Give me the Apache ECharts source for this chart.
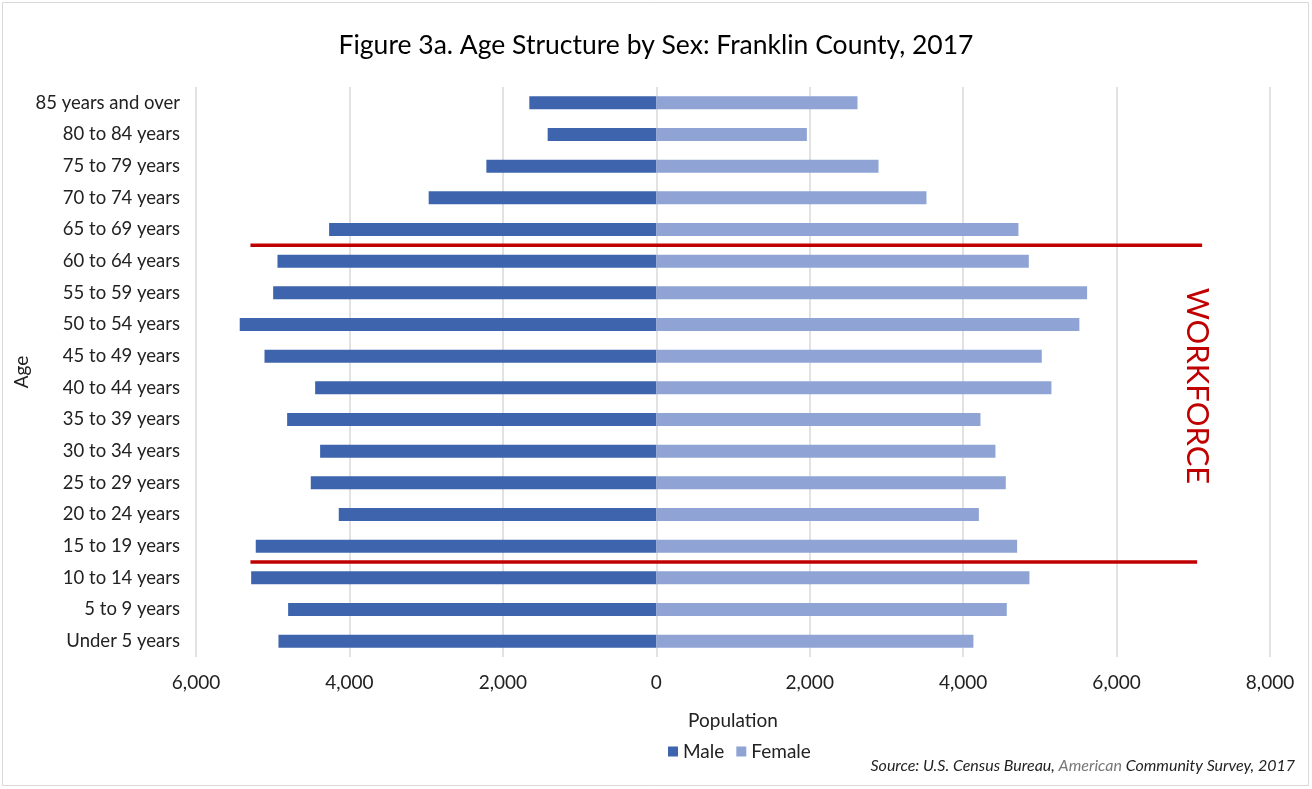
<!DOCTYPE html>
<html>
<head>
<meta charset="utf-8">
<title>Age Structure by Sex: Franklin County, 2017</title>
<script src="https://cdn.jsdelivr.net/npm/echarts@6/dist/echarts.min.js"></script>
<style>
  html, body { margin: 0; padding: 0; background: #fff; }
  #chart { width: 1312px; height: 789px; }
</style>
</head>
<body>
<div id="chart"></div>
<script>
// categories from bottom to top (category axis draws first item at the bottom)
var ageGroups = [
  "Under 5 years", "5 to 9 years", "10 to 14 years", "15 to 19 years",
  "20 to 24 years", "25 to 29 years", "30 to 34 years", "35 to 39 years",
  "40 to 44 years", "45 to 49 years", "50 to 54 years", "55 to 59 years",
  "60 to 64 years", "65 to 69 years", "70 to 74 years", "75 to 79 years",
  "80 to 84 years", "85 years and over"
];
var male = [4925, 4799, 5281, 5221, 4139, 4504, 4382, 4812, 4447, 5107,
  5430, 4994, 4938, 4265, 2967, 2215, 1416, 1655];
var female = [4134, 4569, 4864, 4704, 4205, 4556, 4421, 4226, 5151, 5025,
  5515, 5616, 4856, 4721, 3522, 2897, 1963, 2623];
var xTicks = [-6000, -4000, -2000, 0, 2000, 4000, 6000, 8000];

// workforce band: between 10-14 / 15-19 and 60-64 / 65-69
var workforceLines = [
  { below: "10 to 14 years", above: "15 to 19 years", from: -5290, to: 7050 },
  { below: "60 to 64 years", above: "65 to 69 years", from: -5290, to: 7115 }
];

var FONT = "Lato";
var chart = echarts.init(document.getElementById("chart"));

chart.setOption({
  animation: false,
  textStyle: { fontFamily: FONT },
  color: ["#3d64ad", "#8fa4d5"],
  title: {
    text: "Figure 3a. Age Structure by Sex: Franklin County, 2017",
    left: "center",
    top: 27,
    textStyle: { fontFamily: FONT, fontSize: 26.5, fontWeight: "normal", color: "#000" }
  },
  legend: {
    bottom: 23,
    left: 663,
    itemWidth: 10,
    itemHeight: 10,
    itemGap: 12,
    icon: "rect",
    textStyle: { fontFamily: FONT, fontSize: 19, color: "#222" },
    data: ["Male", "Female"]
  },
  grid: { left: 196, right: 42, top: 87, bottom: 132, containLabel: false, outerBoundsMode: "none" },
  xAxis: {
    type: "value",
    min: xTicks[0],
    max: xTicks[xTicks.length - 1],
    interval: 2000,
    name: "Population",
    nameLocation: "middle",
    nameGap: 54,
    nameTextStyle: { fontFamily: FONT, fontSize: 19, color: "#222" },
    axisLine: { show: false },
    axisTick: { show: false },
    axisLabel: {
      margin: 16,
      fontSize: 19,
      color: "#222",
      formatter: function (v) { return Math.abs(v).toLocaleString("en-US"); }
    },
    splitLine: { lineStyle: { color: "#d9d9d9", width: 1.5 } }
  },
  yAxis: {
    type: "category",
    data: ageGroups,
    name: "Age",
    nameLocation: "middle",
    nameGap: 165,
    nameRotate: 90,
    nameMoveOverlap: false,
    nameTextStyle: { fontFamily: FONT, fontSize: 19, color: "#222" },
    axisLine: { show: false },
    axisTick: { show: false },
    axisLabel: { margin: 16, fontSize: 18.5, color: "#222" }
  },
  series: [
    {
      name: "Male",
      type: "bar",
      barWidth: 13,
      barGap: "-100%",
      data: male.map(function (v) { return -v; })
    },
    {
      name: "Female",
      type: "bar",
      barWidth: 13,
      data: female
    }
  ]
});

// red annotation lines placed through the axes
var graphics = workforceLines.map(function (l) {
  var a = chart.convertToPixel({ gridIndex: 0 }, [l.from, l.below]);
  var b = chart.convertToPixel({ gridIndex: 0 }, [l.to, l.above]);
  var y = (a[1] + b[1]) / 2;
  return {
    type: "line",
    shape: { x1: a[0], y1: y, x2: b[0], y2: y },
    style: { stroke: "#c00000", lineWidth: 3.5 },
    z: 10
  };
});
graphics.push({
  type: "text",
  x: 1197,
  y: 386,
  rotation: -Math.PI / 2,
  style: {
    text: "WORKFORCE",
    fill: "#c00000",
    font: "31px " + FONT,
    textAlign: "center",
    textVerticalAlign: "middle"
  }
});
graphics.push({
  type: "text",
  right: 17,
  top: 758,
  style: {
    rich: {
      n: { fill: "#222", font: "italic 16px " + FONT },
      g: { fill: "#777", font: "italic 16px " + FONT }
    },
    text: "{n|Source: U.S. Census Bureau, }{g|American}{n| Community Survey, 2017}"
  }
});
graphics.push({
  type: "rect",
  shape: { x: 2.5, y: 2.5, width: 1306, height: 783 },
  style: { fill: "none", stroke: "#d9d9d9", lineWidth: 1 },
  silent: true
});
chart.setOption({ graphic: graphics });
</script>
</body>
</html>
